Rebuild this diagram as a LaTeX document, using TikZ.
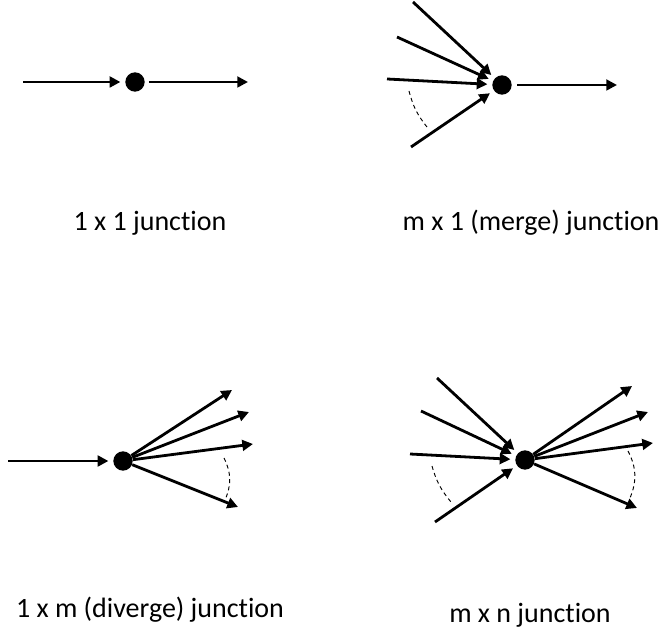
\documentclass[tikz,border=0pt]{standalone}
\usepackage{fontspec}
\setmainfont{Carlito}[RawFeature=-liga]
\usetikzlibrary{arrows.meta}
\begin{document}
\begin{tikzpicture}[x=0.75pt,y=0.75pt,
    junction/.style={circle,fill=black,inner sep=0pt,minimum size=14.5pt},
    flow/.style={line width=2.1pt,-{Triangle[length=8pt,width=8pt]}},
    flowin/.style={flow,shorten >=3.5pt},
    span/.style={dash pattern=on 3pt off 2.5pt,line width=0.7pt},
    caption/.style={anchor=base,font=\fontsize{21}{25}\selectfont}]
  \useasboundingbox (0,0) rectangle (663,635);
  % 1 x 1
  \node[junction] (j1) at (135,553) {};
  \coordinate (a1) at (23,553);
  \coordinate (b1) at (248,553);
  \draw[flowin] (a1) -- (j1);
  \draw[flow,shorten <=3pt] (j1) -- (b1);
  \node[caption] (l1) at (150,404) {1 x 1 junction};
  % m x 1 (merge)
  \node[junction] (j2) at (502,550) {};
  \coordinate (a21) at (413,633);
  \coordinate (a22) at (397,598);
  \coordinate (a23) at (387,556);
  \coordinate (a24) at (411,488);
  \coordinate (b2) at (617,550);
  \foreach \i in {a21,a22,a23,a24}
    \draw[flowin] (\i) -- (j2);
  \draw[flow,shorten <=4pt] (j2) -- (b2);
  \coordinate (d21) at (409,544);
  \coordinate (d22) at (427,508);
  \draw[span] (d21) to[bend right=12] (d22);
  \node[caption] (l2) at (531,404) {m x 1 (merge) junction};
  % 1 x m (diverge)
  \node[junction] (j3) at (123,174) {};
  \coordinate (a3) at (8,174);
  \coordinate (b31) at (232,245);
  \coordinate (b32) at (249,223);
  \coordinate (b33) at (253,191);
  \coordinate (b34) at (238,128);
  \draw[flowin] (a3) -- (j3);
  \foreach \o in {b31,b32,b33,b34}
    \draw[flow] (j3) -- (\o);
  \coordinate (d31) at (224,177);
  \coordinate (d32) at (225,135);
  \draw[span] (d31) to[bend left=25] (d32);
  \node[caption] (l3) at (150,18) {1 x m (diverge) junction};
  % m x n
  \node[junction] (j4) at (525,175) {};
  \coordinate (a41) at (437,257);
  \coordinate (a42) at (421,224);
  \coordinate (a43) at (410,181);
  \coordinate (a44) at (435,113);
  \coordinate (b41) at (632,249);
  \coordinate (b42) at (648,223);
  \coordinate (b43) at (653,192);
  \coordinate (b44) at (637,127);
  \foreach \i in {a41,a42,a43,a44}
    \draw[flowin] (\i) -- (j4);
  \foreach \o in {b41,b42,b43,b44}
    \draw[flow] (j4) -- (\o);
  \coordinate (d41) at (432,169);
  \coordinate (d42) at (451,133);
  \draw[span] (d41) to[bend right=12] (d42);
  \coordinate (d43) at (628,184);
  \coordinate (d44) at (630,137);
  \draw[span] (d43) to[bend left=25] (d44);
  \node[caption] (l4) at (530,13) {m x n junction};
\end{tikzpicture}
\end{document}
